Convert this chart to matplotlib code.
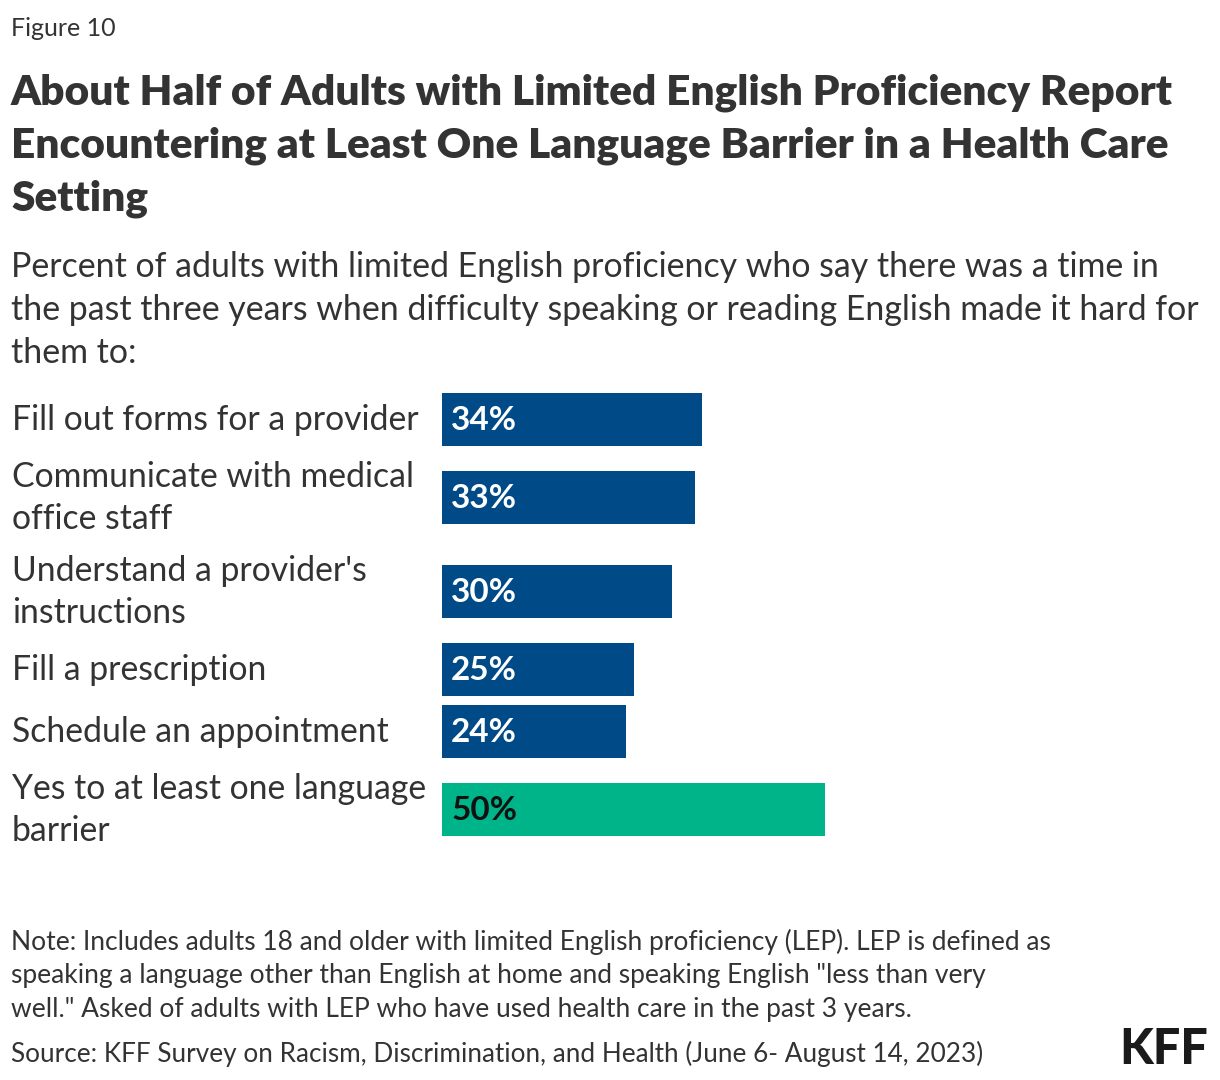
import matplotlib
matplotlib.use("Agg")
import matplotlib.pyplot as plt

# datos de la grafica
categorias = [
    "Fill out forms for a provider",
    "Communicate with medical\noffice staff",
    "Understand a provider's\ninstructions",
    "Fill a prescription",
    "Schedule an appointment",
    "Yes to at least one language\nbarrier",
]
valores = [34, 33, 30, 25, 24, 50]
etiquetas = ["34%", "33%", "30%", "25%", "24%", "50%"]

W, H = 1220, 1080
plt.rcParams['font.family'] = ['Lato', 'DejaVu Sans']

fig = plt.figure(figsize=(W / 100, H / 100), dpi=100, facecolor='white')

def fy(py):  # pixel y -> fraccion de figura
    return 1 - py / H

def fx(px):
    return px / W

AZUL = "#004a87"
VERDE = "#00b48a"
TEXTO = "#333333"

fig.text(fx(11), fy(28), "Figure 10", fontsize=18, color=TEXTO, va='center')
titulo = ["About Half of Adults with Limited English Proficiency Report",
          "Encountering at Least One Language Barrier in a Health Care",
          "Setting"]
for i, t in enumerate(titulo):
    fig.text(fx(11), fy(93 + i * 53), t, fontsize=30.5, fontweight='heavy', color=TEXTO, va='center')

sub = ["Percent of adults with limited English proficiency who say there was a time in",
       "the past three years when difficulty speaking or reading English made it hard for",
       "them to:"]
for i, t in enumerate(sub):
    fig.text(fx(11), fy(267 + i * 43), t, fontsize=24.4, color=TEXTO, va='center')

# ejes en pixeles
ax = fig.add_axes([fx(442), fy(850), 766 / W, 470 / H])
pos_y = [419, 497, 591, 669, 731, 809]
colores = [AZUL] * 5 + [VERDE]
ax.barh(pos_y, valores, height=53, color=colores, align='center')
ax.set_xlim(0, 100)
ax.set_ylim(850, 380)
ax.axis('off')

for y, v, lab, c, cat in zip(pos_y, valores, etiquetas, colores, categorias):
    ax.text(1.2, y + 1, lab, fontsize=24, fontweight='bold',
            color='white' if c == AZUL else '#111111', va='center', ha='left')
    fig.text(fx(12), fy(y + 1), cat, fontsize=24.3, color=TEXTO, va='center',
             linespacing=1.36)

nota = ["Note: Includes adults 18 and older with limited English proficiency (LEP). LEP is defined as",
        "speaking a language other than English at home and speaking English \"less than very",
        "well.\" Asked of adults with LEP who have used health care in the past 3 years."]
for i, t in enumerate(nota):
    fig.text(fx(11), fy(942 + i * 34), t, fontsize=19, color=TEXTO, va='center')
fig.text(fx(11), fy(1054), "Source: KFF Survey on Racism, Discrimination, and Health (June 6- August 14, 2023)",
         fontsize=18.8, color=TEXTO, va='center')

fig.text(fx(1208), fy(1050), "KFF", fontsize=35, fontweight='black', color='#1a1a1a',
         va='center', ha='right')

fig.savefig("out.png", dpi=100, facecolor='white')
